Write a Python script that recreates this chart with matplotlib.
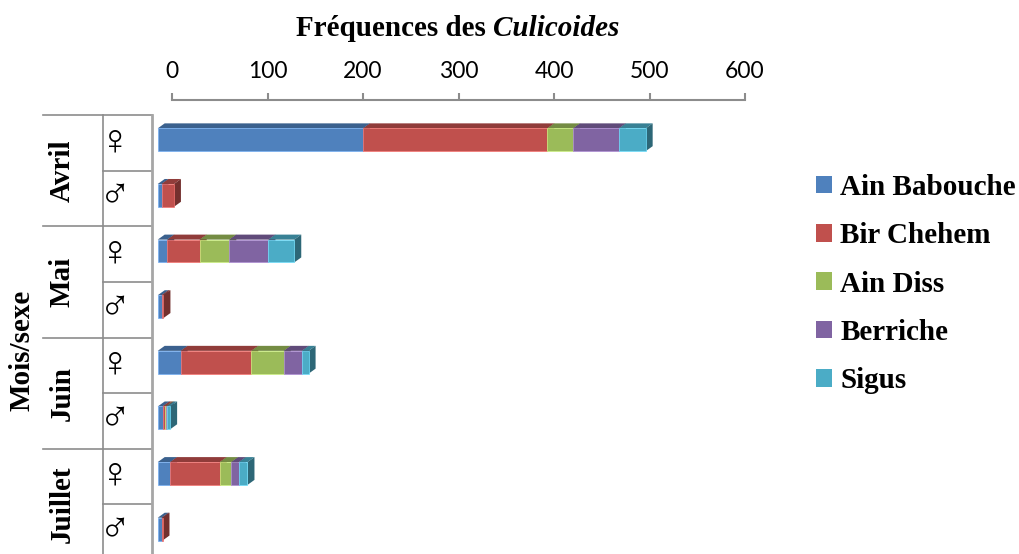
import matplotlib
matplotlib.use('Agg')
import matplotlib.pyplot as plt
from matplotlib.patches import Rectangle, Polygon, Patch
from matplotlib.colors import to_rgb
from matplotlib.transforms import blended_transform_factory
import numpy as np

mois = ['Avril', 'Mai', 'Juin', 'Juillet']
sexes = ['\u2640', '\u2642']
stations = ['Ain Babouche', 'Bir Chehem', 'Ain Diss', 'Berriche', 'Sigus']
couleurs = ['#4F81BD', '#C0504D', '#9BBB59', '#8064A2', '#4BACC6']

# ordre des lignes : Avril F, Avril M, Mai F, Mai M, Juin F, Juin M, Juillet F, Juillet M
ain_babouche = [215, 4, 10, 4, 24, 5, 13, 4]
bir_chehem = [193, 13, 34, 2, 74, 3, 52, 1]
ain_diss = [27, 0, 31, 0, 34, 1, 12, 0]
berriche = [48, 0, 41, 0, 19, 1, 8, 0]
sigus = [28, 0, 27, 0, 7, 3, 9, 0]
series = [ain_babouche, bir_chehem, ain_diss, berriche, sigus]

serif = 'Liberation Serif'
W, H = 1019, 554

fig = plt.figure(figsize=(W / 100, H / 100), dpi=100)
ax = fig.add_axes([152 / W, 1 - 560 / H, 593 / W, 460 / H])
ax.set_xlim(-21, 600)
ax.set_ylim(8, -0.27)


def bar3d(row, left, width, color, z):
    off, dx, dy = 15, 7.3, 0.09
    y0, y1 = row + 0.24, row + 0.65
    x0, x1 = left - off, left + width - off
    c = np.array(to_rgb(color))
    top = Polygon([(x0, y0), (x0 + dx, y0 - dy), (x1 + dx, y0 - dy), (x1, y0)],
                  fc=c * 0.75, ec='none', zorder=z, clip_on=False)
    side = Polygon([(x1, y0), (x1 + dx, y0 - dy), (x1 + dx, y1 - dy), (x1, y1)],
                   fc=c * 0.6, ec='none', zorder=z, clip_on=False)
    front = Rectangle((x0, y0), width, y1 - y0, fc=color,
                      ec=np.minimum(c * 1.15 + 0.1, 1), lw=0.5, zorder=z + 0.5, clip_on=False)
    for p in (top, side, front):
        ax.add_patch(p)


for row in range(len(mois) * 2):
    left = 0
    for k, s in enumerate(series):
        v = s[row]
        if v > 0:
            bar3d(row, left, v, couleurs[k], 3 + k)
        left += v

# axe du haut
ax.xaxis.tick_top()
ax.set_xticks(range(0, 700, 100))
ax.set_yticks([])
for sp in ['right', 'bottom']:
    ax.spines[sp].set_visible(False)
ax.spines['top'].set_bounds(0, 600)
ax.spines['top'].set_color('#8C8C8C')
ax.spines['top'].set_linewidth(1.5)
ax.spines['left'].set_bounds(0, 8)
ax.spines['left'].set_color('#A6A6A6')
ax.spines['left'].set_linewidth(2)
ax.tick_params(axis='x', direction='out', length=5, width=1.5, color='#8C8C8C',
               labelsize=16.5, pad=8)
for t in ax.get_xticklabels():
    t.set_fontfamily('Lato')
ax.patch.set_visible(False)

# tableau mois / sexe a gauche
tr = blended_transform_factory(fig.transFigure, ax.transData)
lc, lw = '#8C8C8C', 1.2
for m in range(len(mois)):
    ax.plot([43 / W, 152 / W], [2 * m, 2 * m], color=lc, lw=lw, transform=tr, clip_on=False)
    ax.plot([103 / W, 152 / W], [2 * m + 1, 2 * m + 1], color=lc, lw=lw, transform=tr, clip_on=False)
    ax.text(62 / W, 2 * m + 1, mois[m], rotation=90, ha='center', va='center',
            fontsize=21, fontweight='bold', family=serif, transform=tr)
    for j, sx in enumerate(sexes):
        ax.text(115 / W, 2 * m + j + 0.5, sx, ha='center', va='center',
                fontsize=31, family=[serif, 'DejaVu Sans'], transform=tr)
ax.plot([103 / W, 103 / W], [0, 8], color=lc, lw=lw, transform=tr, clip_on=False)

fig.text(22 / W, 1 - 350 / H, 'Mois/sexe', rotation=90, ha='center', va='center',
         fontsize=21, fontweight='bold', family=serif)

# titre
t1 = fig.text(0, 1 - 28 / H, 'Fr\u00e9quences des ', ha='left', va='center',
              fontsize=21, fontweight='bold', family=serif)
t2 = fig.text(0, 1 - 28 / H, 'Culicoides', ha='left', va='center',
              fontsize=21, fontweight='bold', style='italic', family=serif)
fig.canvas.draw()
r = fig.canvas.get_renderer()
w1 = t1.get_window_extent(r).width
w2 = t2.get_window_extent(r).width
x0 = 458 - (w1 + w2) / 2
t1.set_x(x0 / W)
t2.set_x((x0 + w1) / W)

# legende
handles = [Patch(facecolor=c, edgecolor='none') for c in couleurs]
fig.legend(handles, stations, loc='upper left', bbox_to_anchor=(816 / W, 1 - 174 / H),
           frameon=False, prop={'family': serif, 'weight': 'bold', 'size': 21},
           handlelength=0.55, handleheight=0.55, handletextpad=0.28,
           labelspacing=0.73, borderpad=0, borderaxespad=0)

fig.savefig('out.png', dpi=100)
